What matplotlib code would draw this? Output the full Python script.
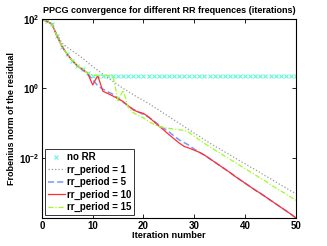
import numpy as np
import matplotlib
matplotlib.use("Agg")
import matplotlib.pyplot as plt
from matplotlib.ticker import FixedLocator, NullLocator

plt.rcParams['font.family'] = ['Liberation Sans', 'DejaVu Sans']
plt.rcParams['font.weight'] = 'bold'
plt.rcParams['mathtext.default'] = 'regular'

# iteration axis
iters = np.arange(0, 51)

# log10 of the Frobenius norm of the residual
log_no_rr = [2.0, 1.93, 1.85, 1.5, 1.2, 0.98, 0.8, 0.65, 0.55, 0.44,
             0.37, 0.36, 0.36, 0.36, 0.36, 0.36, 0.36, 0.36, 0.36, 0.36,
             0.36, 0.36, 0.36, 0.36, 0.36, 0.36, 0.36, 0.36, 0.36, 0.36,
             0.36, 0.36, 0.36, 0.36, 0.36, 0.36, 0.36, 0.36, 0.36, 0.36,
             0.36, 0.36, 0.36, 0.36, 0.36, 0.36, 0.36, 0.36, 0.36, 0.36,
             0.36]
log_rr1 = [2.0, 1.93, 1.85, 1.55, 1.3, 1.18, 1.08, 0.98, 0.87, 0.75,
           0.63, 0.52, 0.41, 0.3, 0.2, 0.1, 0.0, -0.09, -0.18, -0.27,
           -0.35, -0.43, -0.53, -0.62, -0.72, -0.81, -0.91, -1.0, -1.1, -1.19,
           -1.29, -1.38, -1.48, -1.57, -1.66, -1.74, -1.83, -1.91, -2.0, -2.09,
           -2.17, -2.26, -2.34, -2.43, -2.52, -2.6, -2.69, -2.78, -2.86, -2.95,
           -3.03]
log_rr5 = [2.0, 1.93, 1.85, 1.5, 1.2, 0.98, 0.8, 0.65, 0.53, 0.42,
           0.25, 0.08, -0.02, -0.1, -0.17, -0.28, -0.4, -0.5, -0.6, -0.68,
           -0.75, -0.83, -0.93, -1.05, -1.15, -1.25, -1.37, -1.48, -1.56, -1.64,
           -1.75, -1.84, -1.92, -2.02, -2.12, -2.22, -2.32, -2.42, -2.53, -2.63,
           -2.73, -2.83, -2.93, -3.02, -3.12, -3.22, -3.32, -3.42, -3.52, -3.62,
           -3.73]
log_rr10 = [2.0, 1.93, 1.85, 1.5, 1.2, 0.98, 0.8, 0.65, 0.55, 0.44,
            0.10, 0.37, -0.08, -0.15, -0.22, -0.3, -0.38, -0.5, -0.62, -0.68,
            -0.72, -0.82, -0.95, -1.08, -1.2, -1.33, -1.45, -1.57, -1.67, -1.72,
            -1.78, -1.84, -1.92, -2.02, -2.12, -2.22, -2.32, -2.42, -2.53, -2.63,
            -2.73, -2.83, -2.93, -3.02, -3.12, -3.22, -3.32, -3.42, -3.52, -3.62,
            -3.73]
log_rr15 = [2.0, 1.93, 1.85, 1.5, 1.2, 0.98, 0.8, 0.65, 0.55, 0.44,
            0.38, 0.37, 0.37, 0.37, 0.36, -0.35, -0.05, -0.55, -0.7, -0.78,
            -0.85, -0.95, -1.03, -1.1, -1.13, -1.15, -1.17, -1.19, -1.21, -1.27,
            -1.38, -1.48, -1.58, -1.68, -1.77, -1.86, -1.95, -2.04, -2.13, -2.22,
            -2.31, -2.4, -2.49, -2.58, -2.67, -2.77, -2.86, -2.95, -3.04, -3.13,
            -3.22]

fig = plt.figure(figsize=(3.27, 2.46), dpi=100)
ax = fig.add_axes([0.128, 0.114, 0.777, 0.809])

ax.plot(iters, 10 ** np.array(log_no_rr), linestyle='none', marker='x',
        markersize=2.5, markeredgewidth=0.8, color='#66f5dc', label='no RR')
ax.plot(iters, 10 ** np.array(log_rr1), linestyle=':', linewidth=0.9,
        color='#999999', label='rr_period = 1')
ax.plot(iters, 10 ** np.array(log_rr5), linestyle=(0, (4, 2)), linewidth=1.1,
        color='#7a96ff', label='rr_period = 5')
ax.plot(iters, 10 ** np.array(log_rr10), linestyle='-', linewidth=0.9,
        color='#ff3030', label='rr_period = 10')
ax.plot(iters, 10 ** np.array(log_rr15), linestyle=(0, (4, 1.5, 1, 1.5)), linewidth=0.9,
        color='#99ff22', label='rr_period = 15')

ax.set_yscale('log')
ax.set_xlim(0, 50)
ax.set_ylim(10 ** -3.73, 100)
ax.xaxis.set_major_locator(FixedLocator([0, 10, 20, 30, 40, 50]))
ax.yaxis.set_major_locator(FixedLocator([1e-2, 1e0, 1e2]))
ax.yaxis.set_minor_locator(NullLocator())
ax.tick_params(direction='in', top=True, right=True, length=3, width=0.6,
               labelsize=7, pad=2)
for s in ax.spines.values():
    s.set_linewidth(0.8)

ax.set_title('PPCG convergence for different RR frequences (iterations)',
             fontsize=6.5, fontweight='bold', pad=4)
ax.set_xlabel('Iteration number', fontsize=6.7, fontweight='bold', labelpad=0)
ax.set_ylabel('Frobenius norm of the residual', fontsize=6.5, fontweight='bold', labelpad=2)

leg = ax.legend(loc='lower left', fontsize=7.0, handlelength=1.8, handletextpad=0.2,
                borderpad=0.3, labelspacing=0.25, borderaxespad=0.3, fancybox=False,
                framealpha=1, edgecolor='#333333')
leg.get_frame().set_linewidth(0.7)

fig.savefig('out.png', dpi=100)
